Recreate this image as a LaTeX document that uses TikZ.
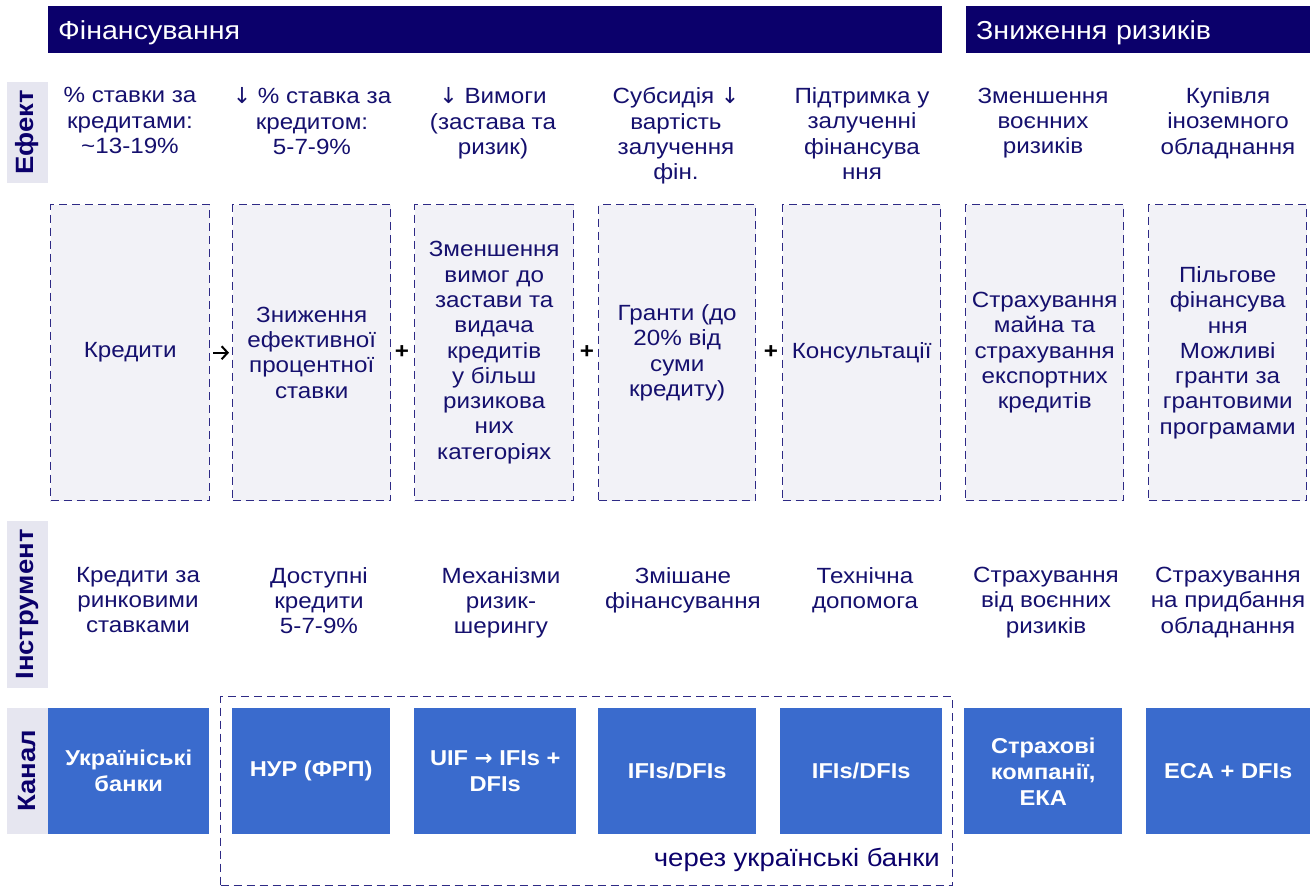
\documentclass[tikz,border=0pt]{standalone}
\usepackage{fontspec}
\setmainfont{Liberation Sans}[FakeStretch=1.1]
\newfontfamily\sym{DejaVu Sans}
\usetikzlibrary{arrows.meta}
\definecolor{navy}{HTML}{0B006B}
\definecolor{txt}{HTML}{15106E}
\definecolor{lab}{HTML}{E6E6F0}
\definecolor{boxfill}{HTML}{F2F2F7}
\definecolor{dashc}{HTML}{2E2A85}
\definecolor{blu}{HTML}{3A6BCD}
\begin{document}
\begin{tikzpicture}[x=1pt,y=-1pt,
  header/.style={fill=navy,text=white,anchor=north west,align=left,inner xsep=10pt,inner ysep=0pt,minimum height=47pt,text depth=0pt,font=\fontsize{26}{30}\selectfont},
  rowlab/.style={fill=lab,text=navy,rotate=90,inner sep=0pt,minimum height=41pt,font=\fontsize{25}{28}\bfseries\selectfont},
  efftext/.style={text=txt,align=center,anchor=north,inner sep=0pt,font=\fontsize{22}{25.3}\selectfont},
  dbox/.style={draw=dashc,fill=boxfill,dash pattern=on 8pt off 5pt,line width=1.4pt,anchor=north west,inner sep=0pt,minimum height=296pt},
  boxtext/.style={text=txt,align=center,inner sep=0pt,font=\fontsize{22}{25.3}\selectfont},
  chan/.style={fill=blu,text=white,align=center,anchor=north west,inner sep=0pt,minimum height=126pt,font=\fontsize{21.5}{26}\bfseries\selectfont},
  op/.style={text=black,inner sep=0pt,font=\fontsize{22}{24}\bfseries\selectfont}
]
\useasboundingbox[fill=white] (0,0) rectangle (1311,886);

% headers
\node[header,text width=874pt] (h1) at (48,6) {Фінансування};
\node[header,text width=324pt] (h2) at (966,6) {Зниження ризиків};

% row labels
\node[rowlab,minimum width=101pt] (l1) at (27.5,132.5) {Ефект};
\node[rowlab,minimum width=167pt] (l2) at (27.5,604.5) {Інструмент};
\node[rowlab,minimum width=126pt] (l3) at (27.5,771) {Канал};

% effect row
\node[efftext] (e1) at (130,87.5) {\% ставки за\\кредитами:\\\textasciitilde13-19\%};
\node[efftext] (e2) at (312,87.5) {{\sym ↓} \% ставка за\\кредитом:\\5-7-9\%};
\node[efftext] (e3) at (493,87.5) {{\sym ↓} Вимоги\\(застава та\\ризик)};
\node[efftext] (e4) at (676,87.5) {Субсидія {\sym ↓}\\вартість\\залучення\\фін.};
\node[efftext] (e5) at (862,87.5) {Підтримка у\\залученні\\фінансува\\ння};
\node[efftext] (e6) at (1043,87.5) {Зменшення\\воєнних\\ризиків};
\node[efftext] (e7) at (1228,87.5) {Купівля\\іноземного\\обладнання};

% dashed boxes
\node[dbox,minimum width=159pt] (b1) at (50,204) {};
\node[dbox,minimum width=158pt] (b2) at (232,204) {};
\node[dbox,minimum width=159pt] (b3) at (414,204) {};
\node[dbox,minimum width=157pt] (b4) at (598,204) {};
\node[dbox,minimum width=158pt] (b5) at (782,204) {};
\node[dbox,minimum width=158pt] (b6) at (965,204) {};
\node[dbox,minimum width=158pt] (b7) at (1148,204) {};

\node[boxtext] (t1) at (b1.center) {Кредити};
\node[boxtext] (t2) at (b2.center) {Зниження\\ефективної\\процентної\\ставки};
\node[boxtext] (t3) at (b3.center) {Зменшення\\вимог до\\застави та\\видача\\кредитів\\у більш\\ризикова\\них\\категоріях};
\node[boxtext] (t4) at (b4.center) {Гранти (до\\20\% від\\суми\\кредиту)};
\node[boxtext] (t5) at (b5.center) {Консультації};
\node[boxtext] (t6) at (b6.center) {Страхування\\майна та\\страхування\\експортних\\кредитів};
\node[boxtext] (t7) at (b7.center) {Пільгове\\фінансува\\ння\\Можливі\\гранти за\\грантовими\\програмами};

% connectors between boxes
\draw[-{Straight Barb[length=6pt,width=13pt]},line width=2pt,shorten <=3pt,shorten >=3pt] (b1.east) -- (b2.west);
\node[op] (p1) at (402,352) {+};
\node[op] (p2) at (587,352) {+};
\node[op] (p3) at (771,352) {+};

% instrument row
\node[efftext] (i1) at (138,567) {Кредити за\\ринковими\\ставками};
\node[efftext] (i2) at (319,567) {Доступні\\кредити\\5-7-9\%};
\node[efftext] (i3) at (501,567) {Механізми\\ризик-\\шерингу};
\node[efftext] (i4) at (683,567) {Змішане\\фінансування};
\node[efftext] (i5) at (865,567) {Технічна\\допомога};
\node[efftext] (i6) at (1046,567) {Страхування\\від воєнних\\ризиків};
\node[efftext] (i7) at (1228,567) {Страхування\\на придбання\\обладнання};

% grouping frame
\node[draw=dashc,dash pattern=on 8pt off 5pt,line width=1.2pt,anchor=north west,inner sep=0pt,minimum width=732pt,minimum height=189pt] (grp) at (220,696) {};
\node[text=navy,anchor=base east,inner sep=0pt,font=\fontsize{25}{28}\selectfont] (via) at (940,866) {через українські банки};

% channel row
\node[chan,minimum width=161pt] (c1) at (48,708) {Україніські\\банки};
\node[chan,minimum width=158pt] (c2) at (232,708) {НУР (ФРП)};
\node[chan,minimum width=162pt] (c3) at (414,708) {UIF {\sym\bfseries →} IFIs +\\DFIs};
\node[chan,minimum width=158pt] (c4) at (598,708) {IFIs/DFIs};
\node[chan,minimum width=162pt] (c5) at (780,708) {IFIs/DFIs};
\node[chan,minimum width=158pt] (c6) at (964,708) {Страхові\\компанії,\\ЕКА};
\node[chan,minimum width=164pt] (c7) at (1146,708) {ECA + DFIs};
\end{tikzpicture}
\end{document}
